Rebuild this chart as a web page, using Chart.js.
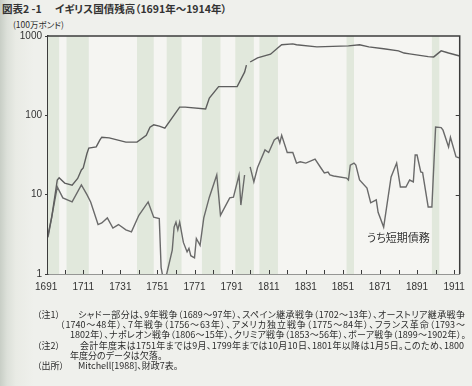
<!DOCTYPE html>
<html lang="ja">
<head>
<meta charset="utf-8">
<title>イギリス国債残高</title>
<script src="https://cdn.jsdelivr.net/npm/chart.js@4.4.1/dist/chart.umd.min.js"></script>
<style>
  html, body { margin: 0; padding: 0; }
  body {
    width: 472px; height: 386px; position: relative; overflow: hidden;
    background: linear-gradient(to right, #c8cec6 0px, #dce0d9 7px, #e9ebe5 16px, #eff0ec 34px);
    font-family: "Noto Sans CJK JP", sans-serif; color: #2b2b2b;
  }
  canvas { position: absolute; left: 0; top: 0; }
  .t { position: absolute; white-space: nowrap; font-feature-settings: "palt"; line-height: 1; }
  .j { text-align: justify; text-align-last: justify; text-justify: inter-character; }
  .note { font-size: 9px; }
</style>
</head>
<body>

<div class="t" style="left:2px; top:4px; font-size:10.5px; font-weight:bold; color:#333;">図表2 -1</div>
<div class="t" style="left:55px; top:4px; font-size:10.5px; font-weight:bold; color:#333;">イギリス国債残高（1691年～1914年）</div>
<div class="t" style="left:13px; top:20px; font-size:8.5px;">(100万ポンド)</div>

<canvas id="debtChart" width="472" height="386"></canvas>

<div class="t" style="left:367px; top:232px; font-size:11px; color:#333;">うち短期債務</div>

<div class="t note" style="left:37px; top:310px;">（注1）</div>
<div class="t note j" style="left:78px; top:310px; width:387px;">シャドー部分は、9年戦争（1689～97年）、スペイン継承戦争（1702～13年）、オーストリア継承戦争</div>
<div class="t note j" style="left:60px; top:320px; width:405px;">（1740～48年）、7年戦争（1756～63年）、アメリカ独立戦争（1775～84年）、フランス革命（1793～</div>
<div class="t note j" style="left:70px; top:330px; width:396px;">1802年）、ナポレオン戦争（1806～15年）、クリミア戦争（1853～56年）、ボーア戦争（1899～1902年）。</div>
<div class="t note" style="left:37px; top:341px;">（注2）</div>
<div class="t note j" style="left:80px; top:341px; width:384px;">会計年度末は1751年までは9月、1799年までは10月10日、1801年以降は1月5日。このため、1800</div>
<div class="t note" style="left:70px; top:351px;">年度分のデータは欠落。</div>
<div class="t note" style="left:37px; top:361px;">（出所）</div>
<div class="t note" style="left:78px; top:361px;">Mitchell[1988]、財政7表。</div>

<script>
// 国債残高 (100万ポンド)
const debtYears = [1692, 1694, 1697, 1698, 1701, 1705, 1708, 1710, 1711, 1713, 1714, 1718, 1720, 1721, 1725,
  1734, 1740, 1745, 1747, 1749, 1752, 1755, 1763, 1766, 1777, 1779, 1784, 1794, 1798, 1799, 1800,
  1801, 1805, 1812, 1816, 1818, 1824, 1826, 1837, 1854, 1860, 1865, 1873, 1881, 1884, 1887, 1897,
  1900, 1904, 1908, 1914];
const debtValues = [3.1, 5.2, 15.3, 16.3, 14, 13.2, 16, 20.5, 21.7, 33, 38.7, 40, 49, 53, 52,
  46, 46, 56, 71, 76, 73, 69, 127, 127, 120, 165, 230, 230, 350, 430, null,
  470, 530, 590, 710, 776, 795, 776, 730, 750, 776, 730, 690, 650, 610, 595, 550,
  545, 650, 610, 560];

// うち短期債務
const shortYears = [1692, 1694, 1697, 1700, 1705, 1710, 1713, 1715, 1719, 1721, 1724, 1727, 1730, 1734, 1737,
  1741, 1746, 1749, 1752, 1753, 1754, 1756, 1759, 1760, 1761, 1762, 1763, 1765, 1767, 1768, 1769,
  1771, 1772, 1774, 1776, 1779, 1783, 1785, 1790, 1792, 1795, 1796, 1798, 1800, 1801, 1803, 1805,
  1809, 1811, 1814, 1816, 1817, 1818, 1821, 1824, 1826, 1828, 1831, 1836, 1839, 1841, 1843, 1844,
  1846, 1853, 1854, 1855, 1857, 1858, 1860, 1864, 1866, 1869, 1870, 1873, 1877, 1880, 1882, 1885,
  1887, 1889, 1890, 1891, 1893, 1894, 1897, 1899, 1901, 1904, 1905, 1908, 1909, 1912, 1914];
const shortValues = [2.9, 5.2, 12.5, 9.1, 8.1, 13.3, 10, 8.1, 4.2, 4.4, 5.1, 3.8, 4.2, 3.6, 3.4,
  5.5, 8.1, 5.2, 5.0, 1.2, 0.9, 1.0, 2.0, 3.9, 4.5, 3.6, 4.5, 2.5, 1.9, 2.1, 1.7,
  1.6, 2.8, 2.3, 5.1, 9.3, 17.7, 5.5, 9.1, 9.3, 17.7, 7.4, 17.7, null, 22.4, 14.5, 22,
  36.7, 34, 49, 53, 45, 56, 34, 34, 25, 26, 25, 28, 22, 18.8, 19.3, 17.7,
  17.2, 16.2, 15.3, 23.6, 25, 23.6, 15.3, 12.1, 7.9, 8.6, 6.0, 3.9, 16.7, 25, 12.5, 12.5,
  15.3, 14.5, 31.6, 31.6, 19.3, 19, 7.0, 7.0, 71, 70, 65, 40, 53, 30, 29];

// 戦争期間 (シャドー)
const warStarts = [1689, 1702, 1740, 1756, 1775, 1793, 1806, 1853, 1899];
const warEnds   = [1697, 1713, 1748, 1763, 1784, 1802, 1815, 1856, 1902];

// 目盛り
const xLabelYears = [1691, 1711, 1731, 1751, 1771, 1791, 1811, 1831, 1851, 1871, 1891, 1911];
const xMinorYears = [1701, 1711, 1721, 1731, 1741, 1751, 1761, 1771, 1781, 1791, 1801, 1811, 1821,
  1831, 1841, 1851, 1861, 1871, 1881, 1891, 1901, 1911];
const yTicks = [1, 10, 100, 1000];

const axisColor = "#3c3c3c";

const warShade = {
  id: "warShade",
  beforeDatasetsDraw(chart) {
    const { ctx, chartArea: a, scales: { x } } = chart;
    ctx.save();
    ctx.fillStyle = "#f5f5f2";
    ctx.fillRect(a.left, a.top, a.right - a.left, a.bottom - a.top);
    ctx.fillStyle = "#e1e8dc";
    warStarts.forEach((s, i) => {
      const x0 = Math.max(a.left, x.getPixelForValue(s));
      const x1 = Math.min(a.right, x.getPixelForValue(warEnds[i] + 1));
      if (x1 > x0) ctx.fillRect(x0, a.top, x1 - x0, a.bottom - a.top);
    });
    ctx.restore();
  }
};

const frame = {
  id: "frame",
  afterDraw(chart) {
    const { ctx, chartArea: a, scales: { x, y } } = chart;
    ctx.save();
    ctx.strokeStyle = axisColor;
    ctx.lineWidth = 1.5;
    ctx.beginPath();
    ctx.moveTo(a.left, a.top);
    ctx.lineTo(a.right, a.top);
    ctx.lineTo(a.right, a.bottom);
    ctx.stroke();
    ctx.lineWidth = 1;
    ctx.beginPath();
    // 下軸の内向き目盛り
    xMinorYears.forEach(v => {
      const px = Math.round(x.getPixelForValue(v)) + 0.5;
      ctx.moveTo(px, a.bottom);
      ctx.lineTo(px, a.bottom - 4);
    });
    // 右軸の内向き目盛り
    [10, 100].forEach(v => {
      const py = Math.round(y.getPixelForValue(v)) + 0.5;
      ctx.moveTo(a.right, py);
      ctx.lineTo(a.right - 4, py);
    });
    ctx.stroke();
    ctx.restore();
  }
};

const ctx = document.getElementById("debtChart");

new Chart(ctx, {
  type: "line",
  data: {
    datasets: [
      {
        label: "国債残高",
        data: debtYears.map((yr, i) => ({ x: yr, y: debtValues[i] })),
        borderColor: "#5e5e5e",
        borderWidth: 1.4,
        pointRadius: 0,
        tension: 0,
        spanGaps: false
      },
      {
        label: "うち短期債務",
        data: shortYears.map((yr, i) => ({ x: yr, y: shortValues[i] })),
        borderColor: "#6a6a6a",
        borderWidth: 1.4,
        pointRadius: 0,
        tension: 0,
        spanGaps: false
      }
    ]
  },
  options: {
    responsive: false,
    animation: false,
    layout: { autoPadding: false, padding: { left: 0, top: 36, right: 8, bottom: 88 } },
    plugins: { legend: { display: false }, tooltip: { enabled: false } },
    scales: {
      x: {
        type: "linear",
        min: 1692,
        max: 1914,
        afterBuildTicks: s => { s.ticks = xLabelYears.map(v => ({ value: v })); },
        afterFit: s => { s.height = 24; },
        grid: { drawOnChartArea: false, drawTicks: false },
        border: { color: axisColor, width: 1.5 },
        ticks: {
          padding: 7,
          color: "#333",
          maxRotation: 0,
          autoSkip: false,
          font: { family: "Liberation Sans", size: 10 },
          callback: v => String(v)
        }
      },
      y: {
        type: "logarithmic",
        min: 1,
        max: 1000,
        afterBuildTicks: s => { s.ticks = yTicks.map(v => ({ value: v })); },
        afterFit: s => { s.width = 48; },
        grid: { drawOnChartArea: false, tickLength: 3, color: axisColor },
        border: { color: axisColor, width: 1.5 },
        ticks: {
          padding: 3,
          color: "#333",
          font: { family: "Liberation Sans", size: 10 },
          callback: v => String(v)
        }
      }
    }
  },
  plugins: [warShade, frame]
});
</script>
</body>
</html>
